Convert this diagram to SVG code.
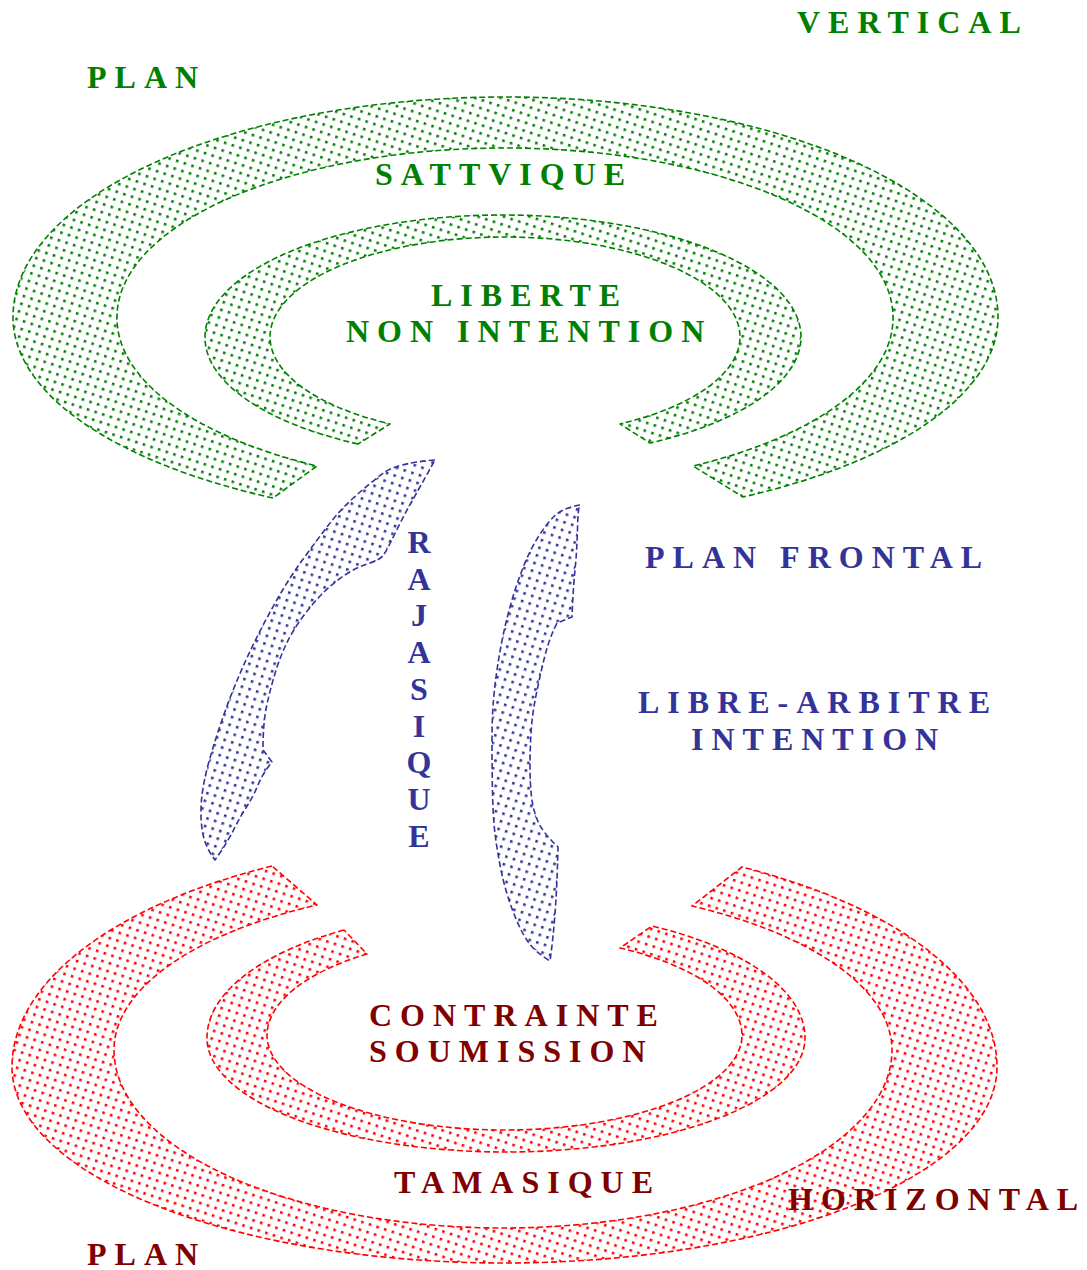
<svg xmlns="http://www.w3.org/2000/svg" width="1087" height="1270" viewBox="0 0 1087 1270">
<defs>
<pattern id="dotG" width="8" height="8" patternUnits="userSpaceOnUse" patternTransform="rotate(18)"><rect x="1" y="1" width="2.6" height="2.6" fill="#008000"/></pattern>
<pattern id="dotB" width="8" height="8" patternUnits="userSpaceOnUse" patternTransform="rotate(18)"><rect x="1" y="1" width="2.6" height="2.6" fill="#333399"/></pattern>
<pattern id="dotR" width="8" height="8" patternUnits="userSpaceOnUse" patternTransform="rotate(18)"><rect x="1" y="1" width="2.6" height="2.6" fill="#ff0000"/></pattern>
</defs>
<style>
.band{stroke-width:1.6;stroke-dasharray:6 3;stroke-linejoin:round}
.g{fill:url(#dotG);stroke:#008000}
.b{fill:url(#dotB);stroke:#333399}
.r{fill:url(#dotR);stroke:#ff0000}
text{font-family:"Liberation Serif","Times New Roman",serif;font-weight:bold;font-size:32px;letter-spacing:8px}
.tg{fill:#008000}
.tb{fill:#333399}
.tr{fill:#800000}
.v{text-anchor:middle;letter-spacing:0}
</style>
<rect width="1087" height="1270" fill="#ffffff"/>

<g id="sattvique-band">
<path class="band g" d="M273,498 A492.5,205 0 0 1 13,317 A492.5,220 0 0 1 505.5,97 A492.5,220 0 0 1 998,317 A492.5,205 0 0 1 743,497 L693,466 A388,169 0 0 0 893,317 A388,169 0 0 0 505,148 A388,169 0 0 0 117,317 A388,169 0 0 0 317,466 Z"/>
</g>
<g id="liberte-band">
<path class="band g" d="M358,444 A298,122 0 0 1 205,337 A298,122 0 0 1 503,215 A298,122 0 0 1 801,337 A298,122 0 0 1 650,443 L620,424 A235,100 0 0 0 740,337 A235,100 0 0 0 505,237 A235,100 0 0 0 270,337 A235,100 0 0 0 390,424 Z"/>
</g>
<g id="rajasique-left-band">
<path class="band b" d="M435,460 Q397,463 383.5,473 Q370,483 355,496.5 Q340,510 328.5,525 Q317,540 303.5,558.5 Q290,577 278.5,597 Q267,617 257,637 Q247,657 238.5,677 Q230,697 222.5,718.5 Q215,740 209,761.5 Q203,783 201.5,800 Q200,817 202.5,832 Q205,847 215,860 Q227,843 233.5,830 Q240,817 246.5,807 Q253,797 258,785 Q263,773 272,762 L263,750 Q263,723 266.5,706.5 Q270,690 275,673.5 Q280,657 286.5,643.5 Q293,630 303,616.5 Q313,603 323,593 Q333,583 345,575 Q357,567 368.5,563.5 Q380,560 383.5,555 Q387,550 395,533.5 Q403,517 411.5,502 Q420,487 435,460 Z"/>
</g>
<g id="rajasique-right-band">
<path class="band b" d="M580,505 Q563,508 555,515.5 Q547,523 538.5,536.5 Q530,550 523.5,566.5 Q517,583 512,600 Q507,617 503.5,633.5 Q500,650 497.5,666.5 Q495,683 493.5,700 Q492,717 492,742 Q492,767 492.5,792 Q493,817 495,833.5 Q497,850 501,870 Q505,890 512.5,910 Q520,930 527.5,941 Q535,952 550,961 Q553,940 555,914 Q557,888 558,847 Q543,833 538,821.5 Q533,810 531.5,796.5 Q530,783 530,766.5 Q530,750 531,733.5 Q532,717 534.5,703.5 Q537,690 540,676.5 Q543,663 546.5,650 Q550,637 557,623 L572,617 Q573,590 575,570 Q577,550 577.5,528.5 Q578,507 580,505 Z"/>
</g>
<g id="tamasique-band">
<path class="band r" d="M272,866 A492.5,228 0 0 0 12,1067 A492.5,196 0 0 0 504.5,1263 A492.5,196 0 0 0 997,1067 A492.5,228 0 0 0 742,867 L692,906 A389,165 0 0 1 892,1050 A389,178 0 0 1 503,1228 A389,178 0 0 1 114,1050 A389,165 0 0 1 317,905 Z"/>
</g>
<g id="contrainte-band">
<path class="band r" d="M344,930 A299,128 0 0 0 207,1038 A299,114 0 0 0 506,1152 A299,114 0 0 0 805,1038 A299,128 0 0 0 652,926 L620,948 A237.5,100 0 0 1 742,1035 A237.5,95 0 0 1 504.5,1130 A237.5,95 0 0 1 267,1035 A237.5,100 0 0 1 367,954 Z"/>
</g>

<g id="labels">
<text id="t-vertical" class="tg" x="797" y="33">VERTICAL</text>
<text id="t-plan-top" class="tg" x="87" y="88">PLAN</text>
<text id="t-sattvique" class="tg" x="375" y="185">SATTVIQUE</text>
<text id="t-liberte" class="tg" x="431" y="306">LIBERTE</text>
<text id="t-non-intention" class="tg" x="346" y="342">NON INTENTION</text>
<g id="t-rajasique" class="tb">
<text class="v" x="419" y="553">R</text>
<text class="v" x="419" y="590">A</text>
<text class="v" x="419" y="626">J</text>
<text class="v" x="419" y="663">A</text>
<text class="v" x="419" y="700">S</text>
<text class="v" x="419" y="737">I</text>
<text class="v" x="419" y="773">Q</text>
<text class="v" x="419" y="810">U</text>
<text class="v" x="419" y="847">E</text>
</g>
<text id="t-plan-frontal" class="tb" x="645" y="568">PLAN FRONTAL</text>
<text id="t-libre-arbitre" class="tb" x="638" y="713">LIBRE-ARBITRE</text>
<text id="t-intention" class="tb" x="691" y="750">INTENTION</text>
<text id="t-contrainte" class="tr" x="369" y="1026">CONTRAINTE</text>
<text id="t-soumission" class="tr" x="369" y="1062">SOUMISSION</text>
<text id="t-tamasique" class="tr" x="394" y="1193">TAMASIQUE</text>
<text id="t-horizontal" class="tr" x="788" y="1210">HORIZONTAL</text>
<text id="t-plan-bottom" class="tr" x="87" y="1265">PLAN</text>
</g>
<g id="connectors"/>
</svg>
